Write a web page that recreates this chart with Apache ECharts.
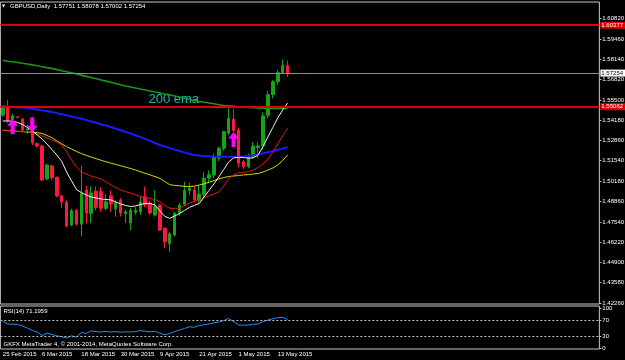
<!DOCTYPE html>
<html><head><meta charset="utf-8">
<script src="https://cdn.jsdelivr.net/npm/echarts@6/dist/echarts.min.js"></script>
<style>html,body{margin:0;padding:0;background:#000;}#c{width:625px;height:360px;}</style>
</head><body><div id="c"></div>
<script>
const dates = ["25 Feb 2015","26 Feb 2015","27 Feb 2015","1 Mar 2015","2 Mar 2015","3 Mar 2015","4 Mar 2015","5 Mar 2015","6 Mar 2015","9 Mar 2015","10 Mar 2015","11 Mar 2015","12 Mar 2015","13 Mar 2015","16 Mar 2015","17 Mar 2015","18 Mar 2015","19 Mar 2015","20 Mar 2015","23 Mar 2015","24 Mar 2015","25 Mar 2015","26 Mar 2015","27 Mar 2015","30 Mar 2015","31 Mar 2015","1 Apr 2015","2 Apr 2015","3 Apr 2015","6 Apr 2015","7 Apr 2015","8 Apr 2015","9 Apr 2015","10 Apr 2015","13 Apr 2015","14 Apr 2015","15 Apr 2015","16 Apr 2015","17 Apr 2015","20 Apr 2015","21 Apr 2015","22 Apr 2015","23 Apr 2015","24 Apr 2015","27 Apr 2015","28 Apr 2015","29 Apr 2015","30 Apr 2015","1 May 2015","4 May 2015","5 May 2015","6 May 2015","7 May 2015","8 May 2015","11 May 2015","12 May 2015","13 May 2015","14 May 2015","15 May 2015"];
const open  = [1.5452,1.5500,1.5420,1.5440,1.5425,1.5354,1.5365,1.5265,1.5250,1.5035,1.5120,1.5046,1.4924,1.4885,1.4734,1.4828,1.4740,1.4963,1.4810,1.4955,1.4952,1.4843,1.4925,1.4840,1.4898,1.4808,1.4748,1.4818,1.4821,1.4918,1.4878,1.4799,1.4865,1.4712,1.4612,1.4669,1.4811,1.4870,1.4960,1.4963,1.4895,1.4935,1.5040,1.5060,1.5170,1.5235,1.5335,1.5425,1.5354,1.5147,1.5115,1.5180,1.5240,1.5250,1.5450,1.5585,1.5669,1.5728,1.57751];
const close = [1.5498,1.5415,1.5446,1.5436,1.5354,1.5362,1.5269,1.5250,1.5028,1.5126,1.5043,1.4924,1.4885,1.4728,1.4828,1.4741,1.4943,1.4813,1.4943,1.4850,1.4843,1.4886,1.4870,1.4880,1.4813,1.4820,1.4832,1.4830,1.4886,1.4865,1.4813,1.4854,1.4702,1.4625,1.4676,1.4811,1.4865,1.4960,1.4975,1.4898,1.4935,1.5040,1.5062,1.5180,1.5235,1.5343,1.5430,1.5350,1.5137,1.5115,1.5180,1.5250,1.5250,1.5445,1.5585,1.5669,1.5728,1.5775,1.57254];
const low   = [1.5440,1.5400,1.5410,1.5430,1.5345,1.5330,1.5256,1.5238,1.5020,1.5025,1.5030,1.4915,1.4846,1.4720,1.4725,1.4730,1.4660,1.4745,1.4745,1.4830,1.4820,1.4830,1.4820,1.4788,1.4790,1.4748,1.4702,1.4800,1.4800,1.4850,1.4800,1.4790,1.4695,1.4584,1.4560,1.4660,1.4795,1.4860,1.4930,1.4880,1.4870,1.4915,1.5010,1.5040,1.5150,1.5220,1.5320,1.5340,1.5110,1.5100,1.5105,1.5165,1.5170,1.5225,1.5430,1.5560,1.5650,1.5720,1.57002];
const high  = [1.5512,1.5550,1.5462,1.5445,1.5432,1.5390,1.5368,1.5272,1.5258,1.5135,1.5126,1.5050,1.4935,1.4895,1.4840,1.4840,1.5120,1.4990,1.4985,1.4985,1.4980,1.4935,1.4960,1.4895,1.4910,1.4835,1.4845,1.4850,1.4924,1.4985,1.4890,1.4963,1.4870,1.4720,1.4690,1.4820,1.4880,1.5017,1.5010,1.4985,1.4995,1.5080,1.5090,1.5200,1.5245,1.5350,1.5496,1.5490,1.5370,1.5160,1.5200,1.5275,1.5275,1.5470,1.5610,1.5680,1.5745,1.5815,1.58078];
const ema200Green = [1.5808,1.5803,1.5799,1.5794,1.5789,1.5785,1.5779,1.5773,1.5767,1.5761,1.5756,1.5748,1.5741,1.5734,1.5727,1.5720,1.5712,1.5704,1.5696,1.5688,1.5680,1.5673,1.5665,1.5657,1.5649,1.5641,1.5635,1.5628,1.5622,1.5615,1.5609,1.5602,1.5596,1.5589,1.5583,1.5576,1.5569,1.5562,1.5555,1.5547,1.5540,1.5535,1.5530,1.5525,1.5519,1.5514,1.5512,1.5509,1.5506,1.5504,1.5501,1.5500,1.5498,1.5497,1.5496,1.5495,1.5495,1.5495,1.5495];
const maBlue = [1.5510,1.5508,1.5506,1.5503,1.5500,1.5497,1.5493,1.5488,1.5482,1.5477,1.5471,1.5464,1.5457,1.5450,1.5442,1.5435,1.5428,1.5419,1.5410,1.5401,1.5392,1.5383,1.5374,1.5363,1.5352,1.5342,1.5331,1.5320,1.5309,1.5296,1.5283,1.5269,1.5256,1.5246,1.5236,1.5226,1.5217,1.5208,1.5198,1.5191,1.5187,1.5185,1.5183,1.5181,1.5180,1.5180,1.5180,1.5180,1.5180,1.5181,1.5185,1.5190,1.5196,1.5202,1.5209,1.5217,1.5225,1.5234,1.5241];
const maYellow = [1.5353,1.5351,1.5348,1.5346,1.5343,1.5341,1.5339,1.5337,1.5331,1.5318,1.5304,1.5283,1.5264,1.5245,1.5230,1.5214,1.5200,1.5188,1.5177,1.5167,1.5157,1.5147,1.5138,1.5129,1.5121,1.5112,1.5103,1.5093,1.5082,1.5071,1.5061,1.5050,1.5038,1.5018,1.4997,1.4993,1.4990,1.4987,1.4985,1.4988,1.4995,1.5003,1.5013,1.5024,1.5035,1.5044,1.5051,1.5054,1.5057,1.5061,1.5063,1.5067,1.5070,1.5080,1.5093,1.5106,1.5126,1.5155,1.5191];
const maRed = [1.5350,1.5349,1.5348,1.5346,1.5345,1.5344,1.5340,1.5328,1.5315,1.5302,1.5289,1.5276,1.5256,1.5211,1.5159,1.5113,1.5080,1.5067,1.5054,1.5044,1.5035,1.5015,1.4995,1.4979,1.4963,1.4952,1.4942,1.4931,1.4921,1.4914,1.4907,1.4901,1.4885,1.4862,1.4843,1.4843,1.4844,1.4858,1.4878,1.4888,1.4898,1.4911,1.4924,1.4937,1.4950,1.4989,1.5038,1.5061,1.5074,1.5077,1.5082,1.5093,1.5110,1.5132,1.5165,1.5211,1.5263,1.5315,1.5365];
const maWhite = [1.5413,1.5413,1.5411,1.5403,1.5390,1.5371,1.5348,1.5322,1.5296,1.5263,1.5227,1.5191,1.5149,1.5080,1.5022,1.4966,1.4946,1.4930,1.4917,1.4911,1.4904,1.4901,1.4898,1.4885,1.4871,1.4862,1.4855,1.4858,1.4868,1.4875,1.4875,1.4865,1.4826,1.4790,1.4778,1.4793,1.4809,1.4829,1.4849,1.4862,1.4875,1.4917,1.4960,1.5002,1.5048,1.5097,1.5145,1.5172,1.5176,1.5175,1.5170,1.5173,1.5191,1.5247,1.5309,1.5371,1.5433,1.5485,1.5530];
const rsi14 = [67,60,59.5,59,55,50,44,40,31,37,34,30.5,28,25.5,30.5,27.5,39,36.5,43,41,40,41.5,40,41,39.5,40.5,40,41,43.5,42,40.5,42,37,33,36,41,45,49,53,52,56,58.5,60,63,65,68.5,73.5,66,57.5,57,57.5,59,60,66,70,73,75.8,76.8,71.1959];
const priceTicks = [1.42260,1.43580,1.44900,1.46220,1.47540,1.48860,1.50180,1.51540,1.52860,1.54180,1.55500,1.56820,1.58140,1.59460,1.60820];
const rsiTicks = [0,30,70,100];
const rsiLevels = [70,30];
const dateLabelIdx = [0,8,16,24,32,40,48,56];
const upArrows = [[2,1.5376],[47,1.5292]];
const downArrows = [[6,1.5389]];
const redLevels = [1.60377,1.55062];
const bidPrice = 1.57254;
const titleText = 'GBPUSD,Daily  1.57751 1.58078 1.57002 1.57254';
const rsiTitle = 'RSI(14) 71.1959';
const copyright = 'GKFX MetaTrader 4, \u00A9 2001-2014, MetaQuotes Software Corp.';
const emaNote = '200 ema';

const FONT = 'Liberation Sans';
const BAND = 4.91, NCAT = 122;
const axisCats = dates.concat(new Array(NCAT - dates.length).fill(''));
const gridW = BAND * NCAT;
const candleData = dates.map((d, i) => [open[i], close[i], low[i], high[i]]);
const BULL = '#14A514', BEAR = '#FF1744';

const upPath = 'path://M5.5,0 L11,6.5 L7.5,6.5 L7.5,15 L3.5,15 L3.5,6.5 L0,6.5 Z';
const downPath = 'path://M3.5,0 L7.5,0 L7.5,8.5 L11,8.5 L5.5,15 L0,8.5 L3.5,8.5 Z';

const chart = echarts.init(document.getElementById('c'), null, {renderer: 'canvas'});
const lineS = (name, data, color, width, z) => ({
  name, type: 'line', xAxisIndex: 0, yAxisIndex: 0, data, symbol: 'none', silent: true,
  lineStyle: {color, width}, z, animation: false
});
chart.setOption({
  backgroundColor: '#000000',
  animation: false,
  grid: [
    {left: 0.35, top: 2, width: gridW, height: 302, show: true, borderColor: '#C8C8C8', borderWidth: 1, backgroundColor: '#000', outerBoundsMode: 'none', containLabel: false},
    {left: 0.35, top: 306, width: gridW, height: 43, show: true, borderColor: '#C8C8C8', borderWidth: 1, backgroundColor: '#000', outerBoundsMode: 'none', containLabel: false}
  ],
  xAxis: [
    {type: 'category', gridIndex: 0, data: axisCats, boundaryGap: true,
     axisLine: {show: false}, axisTick: {show: false}, axisLabel: {show: false}, splitLine: {show: false}},
    {type: 'category', gridIndex: 1, data: axisCats, boundaryGap: true, position: 'bottom',
     axisLine: {show: false}, axisTick: {show: false}, splitLine: {show: false},
     axisLabel: {show: true, interval: (idx) => dateLabelIdx.includes(idx), align: 'left',
       color: '#FFFFFF', fontSize: 6, fontFamily: FONT, margin: 2}}
  ],
  yAxis: [
    {type: 'value', gridIndex: 0, position: 'right', min: 1.4219, max: 1.6189, scale: true,
     axisLine: {show: false}, splitLine: {show: false},
     axisTick: {show: true, customValues: priceTicks, length: 2, lineStyle: {color: '#C8C8C8'}},
     axisLabel: {show: true, customValues: priceTicks, formatter: v => v.toFixed(5),
       color: '#FFFFFF', fontSize: 6, fontFamily: FONT, margin: 3}},
    {type: 'value', gridIndex: 1, position: 'right', min: -2.5, max: 105,
     axisLine: {show: false}, splitLine: {show: false},
     axisTick: {show: true, customValues: rsiTicks, length: 2, lineStyle: {color: '#C8C8C8'}},
     axisLabel: {show: true, customValues: rsiTicks, color: '#FFFFFF', fontSize: 6, fontFamily: FONT, margin: 3}}
  ],
  series: [
    {type: 'candlestick', xAxisIndex: 0, yAxisIndex: 0, data: candleData, barWidth: 3, silent: true, z: 2,
     itemStyle: {color: BULL, color0: BEAR, borderColor: BULL, borderColor0: BEAR, borderWidth: 1},
     markLine: {silent: true, symbol: ['none', 'none'], animation: false, z: 6, precision: 5,
       data: [
         ...redLevels.map(v => ({yAxis: v, lineStyle: {color: '#E00000', width: 2, type: 'solid'},
           label: {show: true, position: 'end', distance: 1, formatter: v.toFixed(5), color: '#FFFFFF',
             backgroundColor: '#E00000', padding: [1, 2, 0, 1], fontSize: 6, fontFamily: FONT}})),
         {yAxis: bidPrice, lineStyle: {color: '#8C8C8C', width: 1, type: 'solid'},
           label: {show: true, position: 'end', distance: 1, formatter: bidPrice.toFixed(5), color: '#000000',
             backgroundColor: '#FFFFFF', padding: [1, 2, 0, 1], fontSize: 6, fontFamily: FONT}}
       ]}},
    lineS('green200', ema200Green, '#1C941C', 1.6, 3),
    lineS('blue', maBlue, '#1A1AFF', 2, 3),
    lineS('yellow', maYellow, '#D8D800', 1, 3),
    lineS('red', maRed, '#E81414', 1, 3),
    lineS('white', maWhite, '#F0F0F0', 1, 3),
    {type: 'scatter', xAxisIndex: 0, yAxisIndex: 0, data: upArrows, symbol: upPath, symbolSize: [11, 15],
     itemStyle: {color: '#FF00FF', opacity: 1}, silent: true, z: 7},
    {type: 'scatter', xAxisIndex: 0, yAxisIndex: 0, data: downArrows, symbol: downPath, symbolSize: [11, 15],
     itemStyle: {color: '#FF00FF', opacity: 1}, silent: true, z: 7},
    {type: 'line', xAxisIndex: 1, yAxisIndex: 1, data: rsi14, symbol: 'none', silent: true,
     lineStyle: {color: '#1E90FF', width: 1}, z: 3,
     markLine: {silent: true, symbol: ['none', 'none'], label: {show: false}, animation: false,
       lineStyle: {color: '#C0C0C0', width: 1, type: [2, 2]},
       data: rsiLevels.map(v => ({yAxis: v}))}}
  ],
  graphic: [
    {type: 'text', x: 2, y: 6, style: {text: '\u25BC', fill: '#FFFFFF', font: '4px "DejaVu Sans"', verticalAlign: 'middle'}},
    {type: 'text', x: 10, y: 6, style: {text: titleText, fill: '#FFFFFF', font: '6px "' + FONT + '"', verticalAlign: 'middle'}},
    {type: 'text', x: 148.5, y: 99.5, style: {text: emaNote, fill: '#22B4AE', font: '13px "' + FONT + '"', verticalAlign: 'middle'}},
    {type: 'text', x: 3.5, y: 311.5, style: {text: rsiTitle, fill: '#FFFFFF', font: '6px "' + FONT + '"', verticalAlign: 'middle'}},
    {type: 'text', x: 3.5, y: 344, style: {text: copyright, fill: '#FFFFFF', font: '6px "' + FONT + '"', verticalAlign: 'middle'}}
  ]
});
</script>
</body></html>
